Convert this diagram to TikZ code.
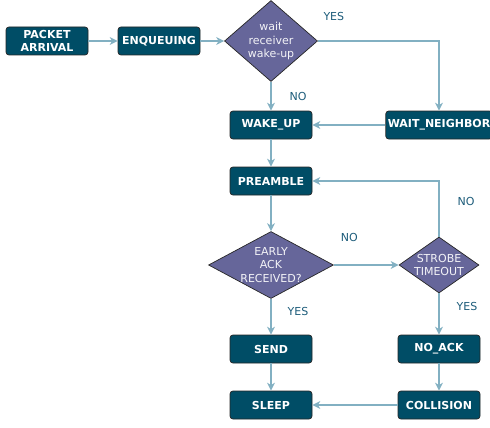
\documentclass[tikz,border=0pt]{standalone}
\usepackage{xcolor}
\usepackage{fontspec}
\setmainfont{DejaVu Sans}
\usetikzlibrary{shapes.geometric,arrows.meta}

\definecolor{boxfill}{HTML}{004D66}
\definecolor{decfill}{HTML}{66669A}
\definecolor{linkcol}{HTML}{82B0C2}
\definecolor{lblcol}{HTML}{1D5C7A}

\tikzset{
  statebox/.style={draw=black!85, line width=0.7pt, fill=boxfill, rounded corners=3pt,
    minimum width=82pt, minimum height=28pt, inner xsep=2pt, text=white,
    font=\fontsize{11}{13}\selectfont\bfseries, align=center},
  decision/.style={draw=black!85, line width=0.7pt, fill=decfill, diamond, inner sep=0pt},
  dectext/.style={text=white!92!decfill, align=center, font=\fontsize{11}{13.3}\selectfont},
  link/.style={draw=linkcol, line width=1.3pt, -{Stealth[length=8pt,width=8pt,inset=2.5pt]}},
  lbl/.style={text=lblcol, font=\fontsize{11}{13}\selectfont}
}

\begin{document}
\begin{tikzpicture}[x=1pt, y=-1pt] % Tikz environment
\useasboundingbox (0,0) rectangle (490,428);

% states and decisions
\node[statebox] (arrival) at (47,41) {PACKET\\ARRIVAL};
\node[statebox] (enqueue) at (159,41) {ENQUEUING};
\node[decision, minimum width=93pt, minimum height=81pt,
  label={[dectext]center:wait\\receiver\\wake-up}] (waitrx) at (271,41) {};
\node[statebox] (wakeup) at (271,125) {WAKE\_UP};
\node[statebox] (neighbor) at (439,125) {WAIT\_NEIGHBOR};
\node[statebox] (preamble) at (271,181) {PREAMBLE};
\node[decision, minimum width=125pt, minimum height=67pt,
  label={[dectext]center:EARLY\\ACK\\RECEIVED?}] (earlyack) at (271,265) {};
\node[decision, minimum width=80pt, minimum height=56pt,
  label={[dectext]center:STROBE\\TIMEOUT}] (strobe) at (439,265) {};
\node[statebox] (send) at (271,349) {SEND};
\node[statebox] (noack) at (439,349) {NO\_ACK};
\node[statebox] (sleep) at (271,405) {SLEEP};
\node[statebox] (collision) at (439,405) {COLLISION};

% connectors
\draw[link] (arrival) -- (enqueue);
\draw[link] (enqueue) -- (waitrx);
\draw[link] (waitrx) -- node[lbl, xshift=27pt] {NO} (wakeup);
\draw[link] (waitrx.east) -| node[lbl, at start, xshift=16pt, yshift=25pt] {YES} (neighbor.north);
\draw[link] (neighbor) -- (wakeup);
\draw[link] (wakeup) -- (preamble);
\draw[link] (preamble) -- (earlyack);
\draw[link] (earlyack) -- node[lbl, xshift=-17pt, yshift=28pt] {NO} (strobe);
\draw[link] (strobe.north) |- node[lbl, pos=0.25, xshift=27pt, yshift=7pt] {NO} (preamble.east);
\draw[link] (earlyack) -- node[lbl, xshift=27pt, yshift=5pt] {YES} (send);
\draw[link] (strobe) -- node[lbl, xshift=28pt, yshift=8pt] {YES} (noack);
\draw[link] (send) -- (sleep);
\draw[link] (noack) -- (collision);
\draw[link] (collision) -- (sleep);
\end{tikzpicture}
\end{document}
